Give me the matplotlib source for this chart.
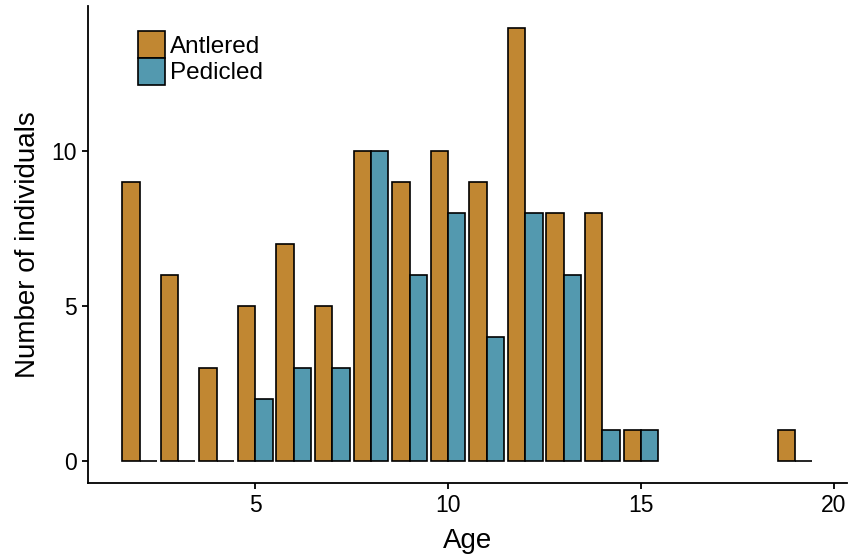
import matplotlib
matplotlib.use('Agg')
import matplotlib.pyplot as plt
from matplotlib.patches import Patch
import numpy as np

# datos
edades = [2, 3, 4, 5, 6, 7, 8, 9, 10, 11, 12, 13, 14, 15, 19]
antlered = [9, 6, 3, 5, 7, 5, 10, 9, 10, 9, 14, 8, 8, 1, 1]
pedicled = [0, 0, 0, 2, 3, 3, 10, 6, 8, 4, 8, 6, 1, 1, 0]
grupos = ['Antlered', 'Pedicled']
colores = ['#C18732', '#5399AF']

plt.rcParams['font.family'] = ['Liberation Sans', 'DejaVu Sans']

fig = plt.figure(figsize=(8.5, 5.58), dpi=100)
ax = fig.add_axes([87.7 / 850, 1 - 482.7 / 558, 759.3 / 850, 476.7 / 558])

x = np.array(edades, dtype=float)
ancho = 0.45
ax.bar(x - ancho / 2, antlered, width=ancho, color=colores[0],
       edgecolor='black', linewidth=1.2, zorder=3)
ax.bar(x + ancho / 2, pedicled, width=ancho, color=colores[1],
       edgecolor='black', linewidth=1.2, zorder=3)

ax.set_xlim(0.655, 20.345)
ax.set_ylim(-0.7, 14.7)
ax.set_xticks([5, 10, 15, 20])
ax.set_yticks([0, 5, 10])

for lado in ['top', 'right']:
    ax.spines[lado].set_visible(False)
for lado in ['left', 'bottom']:
    ax.spines[lado].set_linewidth(1.3)
ax.tick_params(axis='both', length=4, width=1.3, labelsize=16.5,
               colors='black', pad=4)

ax.set_xlabel('Age', fontsize=20)
ax.set_ylabel('Number of individuals', fontsize=20)
ax.xaxis.set_label_coords(0.5, -0.094)
ax.yaxis.set_label_coords(-0.062, 0.5)

handles = [Patch(facecolor=c, edgecolor='black', linewidth=1.2) for c in colores]
ax.legend(handles, grupos, loc='upper left',
          bbox_to_anchor=(138 / 850, 1 - 31 / 558), bbox_transform=fig.transFigure,
          frameon=False, fontsize=17.5, borderpad=0, borderaxespad=0,
          handlelength=1.1, handleheight=1.32, handletextpad=0.2,
          labelspacing=0.0)

fig.savefig('out.png', dpi=100)
